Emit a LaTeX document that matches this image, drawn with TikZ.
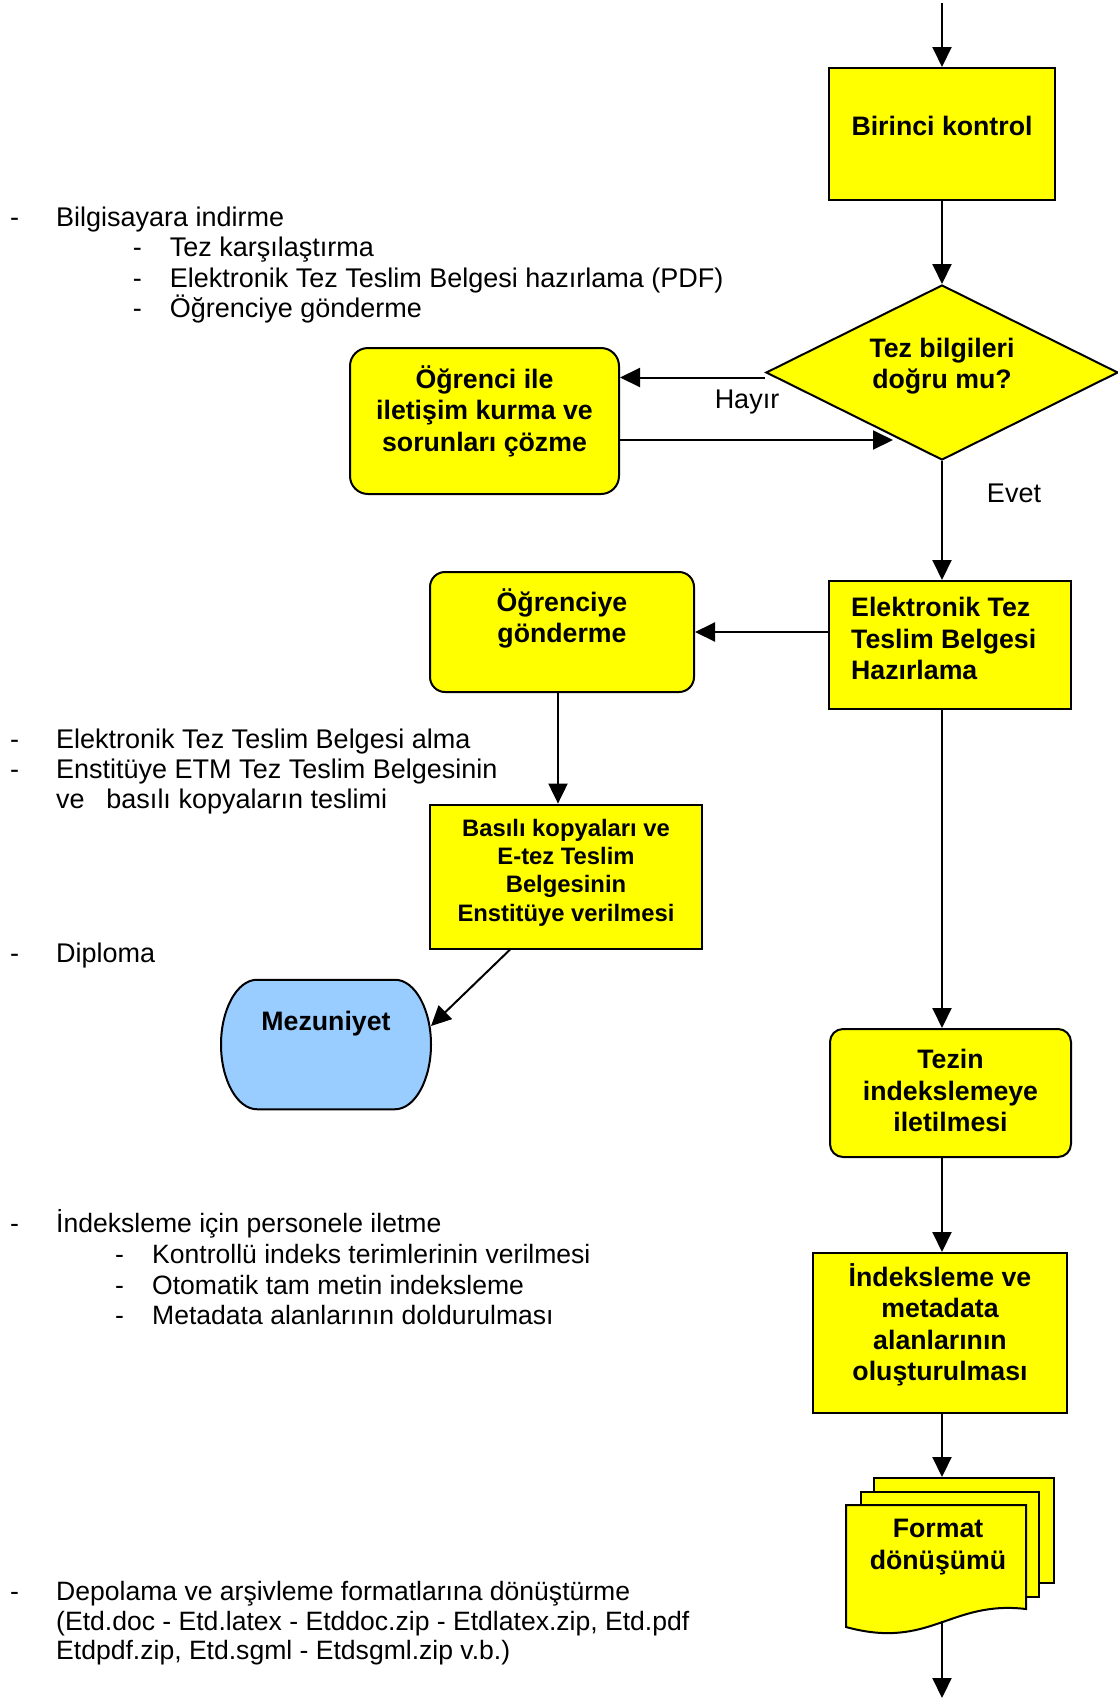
\documentclass[tikz,border=0pt]{standalone}
\usepackage{fontspec}
\setmainfont{Liberation Sans}
\usetikzlibrary{arrows.meta,shapes.geometric}
\definecolor{boxyellow}{HTML}{FFFF00}
\definecolor{mezblue}{HTML}{99CCFF}
\begin{document}
\begin{tikzpicture}[x=1pt,y=-1pt,
  conn/.style={line width=2pt,-{Triangle[length=20pt,width=19pt]}},
  ybox/.style={draw,line width=2pt,fill=boxyellow,inner sep=0pt,outer sep=1pt},
  rbox/.style={ybox,rounded corners=#1},
  lbl/.style={font=\fontsize{26.7}{31.5}\selectfont\bfseries,align=center,inner sep=0pt},
  lblsmall/.style={font=\fontsize{23.8}{28.3}\selectfont\bfseries,align=center,inner sep=0pt},
  plain/.style={font=\fontsize{27}{30.5}\selectfont,anchor=base west,inner sep=0pt},
  plainb/.style={font=\fontsize{26.55}{30.5}\selectfont,anchor=base west,inner sep=0pt},
  tag/.style={font=\fontsize{27}{30.5}\selectfont,inner sep=0pt},
  mezfill/.style={draw,line width=2pt,fill=mezblue}
]
\useasboundingbox (0,0) rectangle (1118,1698);
\fill[white] (0,0) rectangle (1118,1698);

% ---------- right column ----------
\node[ybox,minimum width=226pt,minimum height=132pt,
  label={[lbl,yshift=8pt]center:Birinci kontrol}] (birinci) at (942,134) {};
\node[ybox,diamond,minimum width=352pt,minimum height=175pt,
  label={[lbl,yshift=6.5pt]center:{Tez bilgileri\\doğru mu?}}] (dia) at (942,372.5) {};
\node[rbox=18pt,minimum width=269pt,minimum height=146pt,
  label={[lbl,yshift=10pt]center:{Öğrenci ile\\iletişim kurma ve\\sorunları çözme}}] (ogr) at (484.5,421) {};
\node[ybox,minimum width=242pt,minimum height=128pt,
  label={[lbl,align=left,anchor=west,xshift=23pt,yshift=6.5pt]west:{Elektronik Tez\\Teslim Belgesi\\Hazırlama}}] (elek) at (950,645) {};
\node[rbox=15pt,minimum width=264pt,minimum height=120pt,
  label={[lbl,yshift=13.5pt]center:{Öğrenciye\\gönderme}}] (og2) at (562,632) {};
\node[ybox,minimum width=272pt,minimum height=144pt,
  label={[lblsmall,yshift=4pt]center:{Basılı kopyaları ve\\E-tez Teslim\\Belgesinin\\Enstitüye verilmesi}}] (basili) at (566,876.6) {};
\node[rbox=13pt,minimum width=241pt,minimum height=128pt,
  label={[lbl,yshift=2.5pt]center:{Tezin\\indekslemeye\\iletilmesi}}] (tezin) at (950.5,1093) {};
\node[ybox,minimum width=254pt,minimum height=160pt,
  label={[lbl,yshift=8pt]center:{İndeksleme ve\\metadata\\alanlarının\\oluşturulması}}] (index) at (940,1333) {};

% Mezuniyet terminal
\node[inner sep=0pt,outer sep=1pt,minimum width=208pt,minimum height=127.5pt] (mez) at (326,1044.5) {};
\draw[mezfill] ([xshift=36pt]mez.north west) -- ([xshift=-36pt]mez.north east)
  .. controls ([xshift=-16pt]mez.north east) and ([yshift=35pt]mez.east) .. (mez.east)
  .. controls ([yshift=-35pt]mez.east) and ([xshift=-16pt]mez.south east) .. ([xshift=-36pt]mez.south east)
  -- ([xshift=36pt]mez.south west)
  .. controls ([xshift=16pt]mez.south west) and ([yshift=-35pt]mez.west) .. (mez.west)
  .. controls ([yshift=35pt]mez.west) and ([xshift=16pt]mez.north west) .. cycle;
\node[lbl] (meztext) at ([yshift=20.5pt]mez.center) {Mezuniyet};

% Format stack
\draw[ybox] (874,1478) rectangle (1054,1583);
\draw[ybox] (861,1492) rectangle (1039,1597);
\draw[ybox] (846,1505) -- (1026,1505) -- (1026,1609)
  .. controls (950,1600) and (930,1650) .. (846,1627) -- cycle;
\node[lbl] (format) at (938,1547) {Format\\dönüşümü};

% coordinates
\coordinate (topstart) at (942,3);
\coordinate (stacktop) at (942,1477);
\coordinate (stackbot) at (942,1621);
\coordinate (bottomend) at (942,1698);
\coordinate (hayA) at ([yshift=-5pt]dia.west);
\coordinate (retY) at (0,440);
\coordinate (retEnd) at (893,440);
\coordinate (og2x) at (558,0);

% connectors
\draw[conn] (topstart) -- (birinci.north);
\draw[conn] (birinci.south) -- (dia.north);
\draw[conn] (hayA) -- (hayA -| ogr.east);
\draw[conn] (ogr.east |- retY) -- (retEnd);
\draw[conn] (dia.south) -- (dia.south |- elek.north);
\draw[conn] (elek.west |- og2.east) -- (og2.east);
\draw[conn] (og2.south -| og2x) -- (basili.north -| og2x);
\draw[conn] ([xshift=-56pt]basili.south) -- ([yshift=18.5pt]mez.east);
\draw[conn] (elek.south -| dia.south) -- (tezin.north -| dia.south);
\draw[conn] (tezin.south -| dia.south) -- (index.north -| dia.south);
\draw[conn] (index.south -| dia.south) -- (stacktop);
\draw[conn] (stackbot) -- (bottomend);

\node[tag] (hayir) at (747,402) {Hayır};
\node[tag] (evet) at (1014,493) {Evet};

% ---------- left text ----------
\node[plain] (g1a) at (10,226) {\makebox[46pt][l]{-}Bilgisayara indirme};
\node[plain] (g1b) at (132.6,256.5) {\makebox[37pt][l]{-}Tez karşılaştırma};
\node[plain] (g1c) at (132.6,287) {\makebox[37pt][l]{-}Elektronik Tez Teslim Belgesi hazırlama (PDF)};
\node[plain] (g1d) at (132.6,317.5) {\makebox[37pt][l]{-}Öğrenciye gönderme};

\node[plain] (g2a) at (10,748) {\makebox[46pt][l]{-}Elektronik Tez Teslim Belgesi alma};
\node[plain] (g2b) at (10,778) {\makebox[46pt][l]{-}Enstitüye ETM Tez Teslim Belgesinin};
\node[plain] (g2c) at (56,808) {\makebox[50.3pt][l]{ve}basılı kopyaların teslimi};
\node[plain] (g2d) at (10,962) {\makebox[46pt][l]{-}Diploma};

\node[plainb] (g3a) at (10,1232) {\makebox[46pt][l]{-}İndeksleme için personele iletme};
\node[plainb] (g3b) at (115,1263.5) {\makebox[37pt][l]{-}Kontrollü indeks terimlerinin verilmesi};
\node[plainb] (g3c) at (115,1294) {\makebox[37pt][l]{-}Otomatik tam metin indeksleme};
\node[plainb] (g3d) at (115,1324) {\makebox[37pt][l]{-}Metadata alanlarının doldurulması};
\node[plainb] (g3e) at (10,1600) {\makebox[46pt][l]{-}Depolama ve arşivleme formatlarına dönüştürme};
\node[plainb] (g3f) at (56,1630) {(Etd.doc - Etd.latex - Etddoc.zip - Etdlatex.zip, Etd.pdf};
\node[plainb] (g3g) at (56,1659) {Etdpdf.zip, Etd.sgml - Etdsgml.zip v.b.)};
\end{tikzpicture}
\end{document}
